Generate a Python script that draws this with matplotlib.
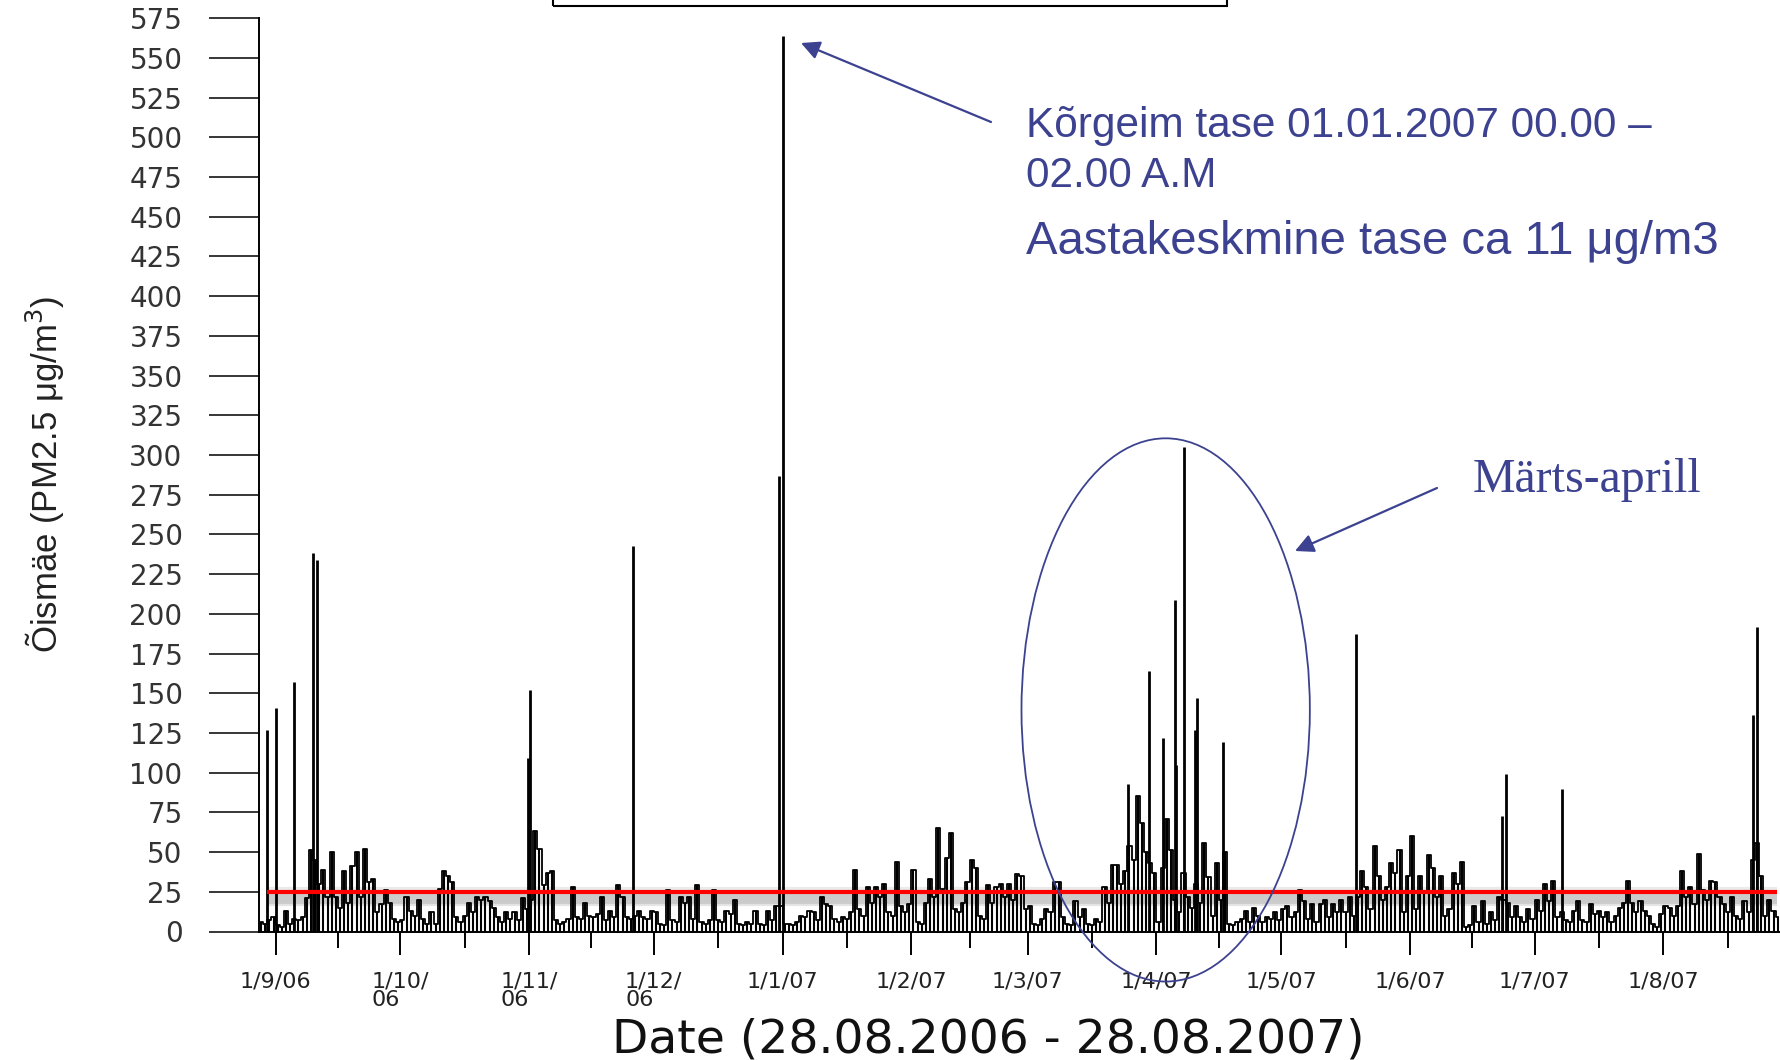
import matplotlib
matplotlib.use("Agg")
import matplotlib.pyplot as plt
import matplotlib.dates as mdates
import matplotlib.patheffects as pe
from matplotlib.patches import Ellipse, Rectangle
import numpy as np
import pandas as pd

W, H = 1781, 1060
NAVY = "#3C4290"

# daily PM2.5 level (ug/m3), 28.08.2006 - 28.08.2007, one list per month
aug06 = [6, 5, 7, 9]
sep06 = [4, 3, 13, 5, 8, 7, 9, 21, 51, 45, 30, 39, 22, 50, 22, 15, 38, 18, 41, 50,
         22, 52, 31, 33, 12, 17, 26, 18, 8, 6]
oct06 = [7, 22, 13, 10, 20, 8, 5, 12, 5, 27, 38, 35, 31, 9, 6, 10, 18, 12, 22, 20,
         22, 19, 15, 9, 6, 12, 8, 12, 7, 21, 14]
nov06 = [20, 63, 52, 29, 37, 38, 7, 5, 6, 8, 28, 9, 8, 18, 10, 9, 11, 22, 7, 13,
         9, 29, 22, 9, 8, 10, 13, 9, 8, 13]
dec06 = [12, 5, 4, 26, 7, 6, 22, 18, 22, 8, 29, 6, 5, 7, 26, 7, 6, 13, 11, 20,
         5, 4, 6, 5, 13, 5, 4, 13, 7, 16, 16]
jan07 = [5, 5, 4, 6, 10, 9, 13, 12, 7, 22, 17, 16, 8, 6, 9, 8, 12, 39, 14, 10,
         28, 18, 28, 22, 30, 12, 10, 44, 16, 12, 17]
feb07 = [39, 6, 5, 18, 33, 22, 65, 27, 46, 62, 14, 12, 18, 31, 45, 40, 10, 8, 29, 18,
         28, 30, 22, 30, 20, 36, 35, 14]
mar07 = [16, 5, 4, 8, 14, 12, 31, 31, 9, 5, 4, 19, 9, 14, 5, 4, 8, 6, 28, 18,
         42, 42, 30, 38, 54, 45, 85, 68, 50, 43, 37]
apr07 = [6, 40, 71, 51, 20, 12, 37, 22, 15, 30, 18, 56, 34, 10, 43, 20, 50, 5, 4, 6,
         8, 13, 6, 15, 10, 6, 9, 8, 12, 7]
may07 = [14, 16, 9, 12, 26, 19, 8, 17, 6, 17, 20, 9, 17, 12, 20, 12, 22, 10, 22, 38,
         28, 14, 54, 35, 20, 28, 43, 37, 51, 12, 35]
jun07 = [60, 14, 35, 25, 48, 40, 22, 35, 10, 14, 37, 30, 44, 3, 4, 16, 6, 19, 5, 12,
         7, 22, 20, 18, 9, 16, 9, 6, 14, 8]
jul07 = [20, 13, 30, 19, 32, 9, 12, 7, 6, 13, 19, 7, 6, 17, 11, 13, 9, 12, 6, 10,
         15, 18, 32, 18, 12, 19, 13, 10, 5, 3, 11]
aug07 = [16, 15, 10, 16, 38, 22, 28, 17, 49, 26, 20, 32, 31, 22, 17, 12, 22, 10, 8, 19,
         12, 45, 56, 35, 10, 20, 13, 9]

# short episodes (hourly peaks)
spike_times = ["2006-08-30 00:00", "2006-09-01 00:00", "2006-09-05 10:00",
               "2006-09-10 02:00", "2006-09-10 22:00", "2006-10-31 19:00",
               "2006-11-01 07:00", "2006-11-26 00:00", "2006-12-31 06:00",
               "2007-01-01 01:00", "2007-03-25 05:00", "2007-03-30 02:00",
               "2007-04-02 12:00", "2007-04-05 10:00", "2007-04-05 16:00",
               "2007-04-07 14:00", "2007-04-10 07:00", "2007-04-10 19:00",
               "2007-04-17 02:00", "2007-05-19 02:00", "2007-06-23 02:00",
               "2007-06-24 02:00", "2007-07-07 12:00", "2007-08-22 12:00",
               "2007-08-23 10:00"]
spike_vals = [127, 141, 157, 238, 234, 109, 152, 243, 287, 564, 93, 164, 122, 209,
              105, 305, 127, 147, 119, 187, 73, 99, 90, 136, 192]

limit = 25
tick_labels = ["1/9/06", "1/10/\n06", "1/11/\n06", "1/12/\n06", "1/1/07", "1/2/07",
               "1/3/07", "1/4/07", "1/5/07", "1/6/07", "1/7/07", "1/8/07"]

start = pd.Timestamp("2006-08-28")
daily = aug06 + sep06 + oct06 + nov06 + dec06 + jan07 + feb07 + mar07 + apr07 \
    + may07 + jun07 + jul07 + aug07
days = pd.date_range(start, periods=len(daily), freq="D") + pd.Timedelta(hours=12)

fig = plt.figure(figsize=(W / 100, H / 100), dpi=100)
fig.patch.set_facecolor("white")
ax = fig.add_axes([259 / W, 128.5 / H, 1522 / W, 913.3 / H])

# dense hourly look: a bar per day plus the stepped daily level
ax.vlines(days, 0, daily, color="black", lw=1.5, zorder=2)
ax.plot(days, daily, drawstyle="steps-mid", color="black", lw=1.3, zorder=2)
ax.vlines(pd.to_datetime(spike_times), 0, spike_vals, color="black", lw=2.0, zorder=2)

shadow = [pe.SimpleLineShadow(offset=(0, -1.5 * k), shadow_color="black",
                              alpha=0.10, linewidth=3) for k in range(1, 7)]
shadow.append(pe.SimpleLineShadow(offset=(0, 2), shadow_color="black", alpha=0.08,
                                  linewidth=3))
ax.plot([pd.Timestamp("2006-08-29 20:00"), pd.Timestamp("2007-08-28 10:00")],
        [limit, limit], color="#FF0000", lw=3, zorder=4, solid_capstyle="butt",
        path_effects=shadow + [pe.Normal()])

ax.set_xlim(start, start + pd.Timedelta(days=366.3))
ax.set_ylim(0, 575)

majors = pd.date_range("2006-09-01", "2007-08-01", freq="MS")
nexts = list(majors[1:]) + [pd.Timestamp("2007-09-01")]
minors = [a + (b - a) / 2 for a, b in zip(majors, nexts)]
ax.set_xticks(majors)
ax.set_xticklabels(tick_labels, fontsize=16, multialignment="left", color="#222222",
                   linespacing=0.95)
ax.set_xticks(minors, minor=True)
ax.tick_params(axis="x", which="major", length=16.5, width=1.4, pad=12)
ax.tick_params(axis="x", which="minor", length=11.5, width=1.4)

ax.set_yticks(np.arange(0, 576, 25))
ax.set_yticklabels([str(v) for v in range(0, 576, 25)], fontsize=20, color="#333333")
ax.tick_params(axis="y", length=36, width=1.1, pad=19)

ax.spines[["top", "right"]].set_visible(False)
ax.spines["left"].set_linewidth(1.4)
ax.spines["bottom"].set_linewidth(1.4)

fig.text(988 / W, 1 - 1040 / H, "Date (28.08.2006 - 28.08.2007)", ha="center",
         va="center", fontsize=34, color="#111111")
fig.text(45 / W, 1 - 474 / H, "Õismäe (PM2.5 μg/m$^3$)", rotation=90, ha="center",
         va="center", fontsize=25, color="#222222",
         family=["Liberation Sans Narrow", "Liberation Sans", "DejaVu Sans"])

fig.text(1026 / W, 1 - 126 / H, "Kõrgeim tase 01.01.2007 00.00 –", ha="left",
         va="center", fontsize=30.5, color=NAVY, family="Liberation Sans")
fig.text(1026 / W, 1 - 176 / H, "02.00 A.M", ha="left", va="center", fontsize=30.5,
         color=NAVY, family="Liberation Sans")
fig.text(1026 / W, 1 - 242 / H, "Aastakeskmine tase ca 11 μg/m3", ha="left",
         va="center", fontsize=34, color=NAVY, family="Liberation Sans")
fig.text(1473 / W, 1 - 480 / H, "Märts-aprill", ha="left", va="center",
         fontsize=34.5, color=NAVY, family="Liberation Serif")

arrow = dict(arrowstyle="-|>", color=NAVY, lw=1.6, mutation_scale=28,
             shrinkA=0, shrinkB=0)
ax.annotate("", xy=(801, H - 43), xycoords="figure pixels", xytext=(991, H - 122),
            textcoords="figure pixels", arrowprops=arrow, annotation_clip=False)
ax.annotate("", xy=(1295, H - 551), xycoords="figure pixels", xytext=(1437, H - 488),
            textcoords="figure pixels", arrowprops=arrow, annotation_clip=False)

ax.add_patch(Ellipse((mdates.date2num(pd.Timestamp("2007-04-03 05:00")), 139.5),
                     width=69.4, height=342, fill=False, edgecolor=NAVY, lw=1.3,
                     clip_on=False, zorder=5))

fig.add_artist(Rectangle((553 / W, 1054 / H), 674 / W, 0.2, transform=fig.transFigure,
                         fill=False, edgecolor="black", lw=1.5))

fig.savefig("out.png", dpi=100, facecolor="white")
print("Saved: out.png")
